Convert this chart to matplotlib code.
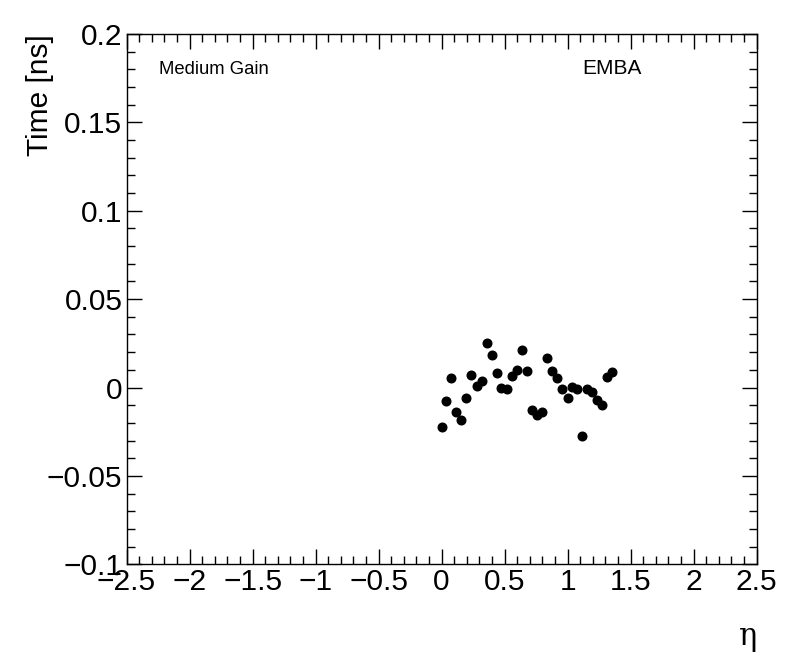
import matplotlib.pyplot as plt
from matplotlib.ticker import MultipleLocator

plt.rcParams['font.family'] = ['Liberation Sans', 'DejaVu Sans']

# timing offset per eta bin (Medium Gain, EMBA)
eta = [0.000, 0.032, 0.076, 0.113, 0.156, 0.195, 0.235, 0.278, 0.322, 0.362,
       0.402, 0.441, 0.475, 0.521, 0.560, 0.600, 0.639, 0.677, 0.719, 0.759,
       0.798, 0.838, 0.878, 0.917, 0.957, 1.000, 1.037, 1.076, 1.116, 1.156,
       1.195, 1.235, 1.275, 1.314, 1.354]
time_ns = [-0.0222, -0.0075, 0.0052, -0.0137, -0.0184, -0.0061, 0.0071, 0.0008,
           0.0037, 0.0253, 0.0184, 0.0084, -0.0005, -0.0010, 0.0065, 0.0099,
           0.0212, 0.0095, -0.0127, -0.0156, -0.0137, 0.0167, 0.0092, 0.0052,
           -0.0010, -0.0061, 0.0005, -0.0008, -0.0274, -0.0008, -0.0024,
           -0.0071, -0.0099, 0.0058, 0.0089]

fig = plt.figure(figsize=(7.96, 6.72), dpi=100)
ax = fig.add_axes([0.159, 0.1603, 0.7916, 0.7891])

ax.plot(eta, time_ns, 'o', color='black', markersize=6.2, linestyle='none')

ax.set_xlim(-2.5, 2.5)
ax.set_ylim(-0.1, 0.2)
ax.xaxis.set_major_locator(MultipleLocator(0.5))
ax.xaxis.set_minor_locator(MultipleLocator(0.1))
ax.yaxis.set_major_locator(MultipleLocator(0.05))
ax.yaxis.set_minor_locator(MultipleLocator(0.01))
ax.tick_params(which='both', direction='in', top=True, right=True,
               width=1, labelsize=21.5)
ax.tick_params(which='major', length=11, pad=3)
ax.tick_params(which='minor', length=5.5)
ax.xaxis.set_major_formatter(plt.FuncFormatter(lambda v, p: f"{v:g}".replace('-', '\u2212')))
ax.yaxis.set_major_formatter(plt.FuncFormatter(lambda v, p: f"{round(v, 3):g}".replace('-', '\u2212')))
for s in ax.spines.values():
    s.set_linewidth(1)

ax.set_ylabel("Time [ns]", fontsize=21.5, loc='top', labelpad=-5)
ax.set_xlabel("\u03b7", fontsize=22, loc='right', labelpad=18, family='DejaVu Serif')

ax.text(0.052, 0.925, "Medium Gain", transform=ax.transAxes, fontsize=13.3)
ax.text(0.723, 0.925, "EMBA", transform=ax.transAxes, fontsize=15)

fig.savefig("out.png", dpi=100)
